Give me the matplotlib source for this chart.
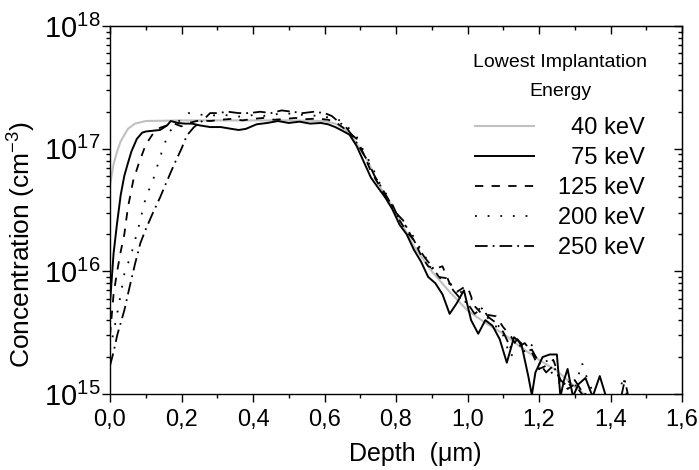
import numpy as np
import matplotlib
matplotlib.use("Agg")
import matplotlib.pyplot as plt
from matplotlib.ticker import FuncFormatter, MultipleLocator, LogLocator, NullFormatter

plt.rcParams['font.family'] = ['Liberation Sans', 'DejaVu Sans']
plt.rcParams['mathtext.fontset'] = 'custom'
plt.rcParams['mathtext.rm'] = 'Liberation Sans'
plt.rcParams['mathtext.it'] = 'Liberation Sans:italic'
plt.rcParams['mathtext.default'] = 'regular'

nan = float('nan')

# depth in um, concentration in cm^-3
depth_40 = [0.0, 0.01, 0.02, 0.03, 0.05, 0.07, 0.1, 0.2, 0.3, 0.4, 0.5, 0.6, 0.63, 0.66,
            0.69, 0.72, 0.75, 0.8, 0.85, 0.9, 0.95, 1.0, 1.05, 1.1, 1.15, 1.2, 1.25, 1.3, 1.33]
conc_40 = [5.0e16, 7.5e16, 9.5e16, 1.15e17, 1.45e17, 1.6e17, 1.68e17, 1.7e17, 1.7e17, 1.7e17,
           1.7e17, 1.68e17, 1.6e17, 1.42e17, 1.1e17, 8.0e16, 5.2e16, 3.0e16, 1.6e16, 1.0e16,
           6.8e15, 4.8e15, 3.8e15, 3.1e15, 2.4e15, 1.9e15, 1.55e15, 1.15e15, 0.98e15]

depth_75 = [0.0, 0.01, 0.02, 0.03, 0.04, 0.05, 0.06, 0.075, 0.09, 0.10, 0.12, 0.14, 0.16, 0.17,
            0.19, 0.21, 0.23, 0.25, 0.28, 0.31, 0.34, 0.36, 0.38, 0.41, 0.44, 0.47, 0.50, 0.53,
            0.56, 0.59, 0.61, 0.63, 0.65, 0.67, 0.69, 0.71, 0.73, 0.75, 0.77, 0.79, 0.81, 0.83,
            0.85, 0.87, 0.89, 0.91, 0.93, 0.95, 0.97, 0.99, 1.01, 1.03, 1.05, 1.07, 1.09, 1.11,
            1.13, 1.15, 1.17, 1.18, 1.19, 1.21, 1.23, 1.25, 1.26, 1.27, 1.28, 1.295, 1.31, 1.33,
            1.35, 1.37, 1.39]
conc_75 = [5.5e15, 1.4e16, 2.5e16, 4.2e16, 6.0e16, 7.6e16, 9.5e16, 1.2e17, 1.35e17, 1.38e17,
           1.4e17, 1.42e17, 1.55e17, 1.68e17, 1.62e17, 1.6e17, 1.6e17, 1.55e17, 1.5e17, 1.5e17,
           1.45e17, 1.42e17, 1.45e17, 1.58e17, 1.62e17, 1.68e17, 1.62e17, 1.66e17, 1.6e17,
           1.62e17, 1.58e17, 1.5e17, 1.4e17, 1.3e17, 1.05e17, 7.8e16, 5.8e16, 4.8e16, 4.0e16,
           3.2e16, 2.4e16, 2.0e16, 1.5e16, 1.2e16, 9.0e15, 8.0e15, 6.5e15, 4.5e15, 5.5e15,
           7.0e15, 4.0e15, 3.1e15, 4.0e15, 3.6e15, 2.8e15, 1.8e15, 2.9e15, 2.6e15, 1.4e15,
           0.98e15, 1.5e15, 2.0e15, 2.1e15, 2.1e15, 0.95e15, 1.3e15, 1.6e15, 0.95e15, 1.2e15,
           1.35e15, 0.95e15, 1.4e15, 0.9e15]

depth_125 = [0.0, 0.01, 0.02, 0.03, 0.04, 0.05, 0.065, 0.08, 0.10, 0.12, 0.14, 0.16, 0.18, 0.20,
             0.22, 0.25, 0.28, 0.31, 0.34, 0.37, 0.40, 0.43, 0.46, 0.49, 0.52, 0.55, 0.58, 0.61,
             0.63, 0.65, 0.67, 0.69, 0.71, 0.73, 0.75, 0.77, 0.79, 0.81, 0.83, 0.85, 0.87, 0.89,
             0.91, 0.93, 0.95, 0.97, 0.99, 1.00, 1.02, 1.04, 1.06, 1.08, 1.10, 1.12, 1.14, 1.16,
             1.18, 1.20, 1.22, 1.24, 1.26, 1.28, 1.30, 1.32, 1.33]
conc_125 = [3.0e15, 6.5e15, 1.0e16, 1.45e16, 2.0e16, 3.3e16, 5.5e16, 7.5e16, 1.08e17, 1.32e17,
            1.48e17, 1.55e17, 1.6e17, 1.52e17, 1.62e17, 1.7e17, 1.68e17, 1.72e17, 1.75e17,
            1.7e17, 1.75e17, 1.78e17, 1.72e17, 1.75e17, 1.78e17, 1.74e17, 1.76e17, 1.72e17,
            1.65e17, 1.5e17, 1.35e17, 1.2e17, 9.0e16, 6.5e16, 5.2e16, 4.0e16, 3.5e16, 2.6e16,
            2.1e16, 1.8e16, 1.35e16, 1.1e16, 1.05e16, 1.1e16, 8.0e15, 6.8e15, 7.4e15, 7.5e15,
            5.2e15, 4.5e15, 4.4e15, 4.3e15, 3.5e15, 3.0e15, 2.4e15, 2.6e15, 2.2e15, 1.6e15,
            1.7e15, 1.9e15, 1.3e15, 1.1e15, 1.2e15, 1.0e15, 0.95e15]

depth_200 = [0.0, 0.01, 0.02, 0.03, 0.04, 0.06, 0.08, 0.10, 0.12, 0.14, 0.15, 0.165, 0.18, 0.20,
             0.22, 0.25, 0.28, 0.31, 0.34, 0.37, 0.40, 0.43, 0.46, 0.49, 0.52, 0.55, 0.58, 0.61,
             0.63, 0.65, 0.67, 0.69, 0.71, 0.73, 0.75, 0.77, 0.79, 0.81, 0.83, 0.85, 0.87, 0.89,
             0.91, 0.93, 0.95, 0.97, 0.99, 1.01, 1.03, 1.05, 1.07, 1.09, 1.10, 1.12, 1.14, 1.16,
             1.18, 1.20, 1.22, 1.24, 1.26, 1.28, 1.30, 1.32, 1.34, 1.36, 1.38, 1.425, 1.435,
             1.445, 1.45]
conc_200 = [2.3e15, 3.2e15, 4.5e15, 6.5e15, 9.5e15, 1.4e16, 2.3e16, 4.0e16, 5.5e16, 8.5e16,
            1.05e17, 1.35e17, 1.55e17, 1.75e17, 1.95e17, 1.9e17, 1.85e17, 1.9e17, 1.85e17,
            1.82e17, 1.88e17, 1.85e17, 1.9e17, 1.95e17, 1.9e17, 1.88e17, 1.85e17, 1.8e17,
            1.78e17, 1.65e17, 1.45e17, 1.25e17, 9.5e16, 7.5e16, 5.5e16, 4.4e16, 3.4e16, 2.6e16,
            2.3e16, 1.9e16, 1.5e16, 1.2e16, 9.5e15, 8.5e15, 8.0e15, 7.2e15, 6.5e15, 6.0e15,
            5.0e15, 4.5e15, 3.6e15, 3.5e15, 3.0e15, 2.0e15, 2.4e15, 2.6e15, 2.5e15, 1.6e15,
            1.9e15, 1.4e15, 1.2e15, 1.3e15, 1.1e15, 1.8e15, 1.2e15, 0.95e15, nan, 0.95e15,
            1.4e15, 1.0e15, 0.95e15]

depth_250 = [0.0, 0.01, 0.02, 0.03, 0.04, 0.055, 0.07, 0.085, 0.10, 0.12, 0.14, 0.16, 0.18,
             0.20, 0.215, 0.235, 0.26, 0.28, 0.30, 0.33, 0.36, 0.39, 0.42, 0.45, 0.48, 0.51,
             0.54, 0.57, 0.60, 0.62, 0.64, 0.66, 0.68, 0.70, 0.72, 0.74, 0.76, 0.78, 0.80, 0.82,
             0.84, 0.86, 0.88, 0.90, 0.92, 0.94, 0.96, 0.98, 1.00, 1.02, 1.04, 1.06, 1.08, 1.10,
             1.12, 1.14, 1.16, 1.18, 1.20, 1.22, 1.24, 1.26, 1.28, 1.30, 1.32, 1.34, 1.38, 1.43,
             1.44, 1.45]
conc_250 = [1.7e15, 2.2e15, 3.0e15, 3.8e15, 4.8e15, 7.5e15, 1.15e16, 1.7e16, 2.2e16, 3.0e16,
            4.0e16, 5.5e16, 7.5e16, 1.0e17, 1.28e17, 1.5e17, 1.7e17, 1.95e17, 1.95e17, 2.0e17,
            1.95e17, 1.95e17, 2.0e17, 1.95e17, 2.05e17, 2.0e17, 1.95e17, 2.0e17, 1.95e17,
            1.85e17, 1.65e17, 1.5e17, 1.25e17, 1.0e17, 8.0e16, 6.0e16, 4.8e16, 3.8e16, 3.0e16,
            2.6e16, 2.0e16, 1.6e16, 1.3e16, 1.1e16, 9.0e15, 8.8e15, 7.0e15, 6.0e15, 5.5e15,
            4.5e15, 5.0e15, 4.2e15, 3.8e15, 3.2e15, 2.4e15, 2.8e15, 2.2e15, 2.3e15, 1.8e15,
            1.5e15, 1.7e15, 1.3e15, 1.15e15, 1.3e15, 1.05e15, 0.95e15, nan, 0.95e15, 1.3e15,
            0.95e15]

labels = ["\u200740 keV", "\u200775 keV", "125 keV", "200 keV", "250 keV"]

fig = plt.figure(figsize=(6.99, 4.70), dpi=100)
ax = fig.add_axes([110/699, 1 - 394/470, 572/699, 368/470])

ax.plot(depth_40, conc_40, color='#c0c0c0', lw=1.5, label=labels[0])
ax.plot(depth_75, conc_75, color='black', lw=1.4, label=labels[1])
ax.plot(depth_125, conc_125, color='black', lw=1.3, ls=(0, (4.6, 4.6)), label=labels[2])
ax.plot(depth_200, conc_200, color='black', lw=1.3, ls=(0, (1, 6)), label=labels[3])
ax.plot(depth_250, conc_250, color='black', lw=1.3, ls=(0, (7, 2.8, 1, 2.8)), label=labels[4])

ax.set_yscale('log')
ax.set_xlim(0, 1.6)
ax.set_ylim(1e15, 1e18)

ax.xaxis.set_major_locator(MultipleLocator(0.2))
ax.xaxis.set_minor_locator(MultipleLocator(0.1))
ax.xaxis.set_major_formatter(FuncFormatter(lambda v, p: f"{v:.1f}".replace('.', ',')))
ax.yaxis.set_minor_locator(LogLocator(base=10, subs=np.arange(2, 10)))
ax.yaxis.set_minor_formatter(NullFormatter())

ax.tick_params(axis='x', which='major', direction='out', length=6, width=1, labelsize=17, pad=5)
ax.tick_params(axis='x', which='minor', direction='out', length=3, width=1)
ax.tick_params(axis='y', which='major', direction='out', length=6, width=1, labelsize=21, pad=1)
ax.tick_params(axis='y', which='minor', direction='out', length=3, width=1)
for s in ax.spines.values():
    s.set_linewidth(1.0)

# mirrored ticks pointing inward on top and right
top = ax.secondary_xaxis('top')
top.xaxis.set_major_locator(MultipleLocator(0.2))
top.xaxis.set_minor_locator(MultipleLocator(0.1))
top.tick_params(which='major', direction='in', length=6, width=1, labeltop=False)
top.tick_params(which='minor', direction='in', length=3, width=1)
right = ax.secondary_yaxis('right')
right.yaxis.set_minor_locator(LogLocator(base=10, subs=np.arange(2, 10)))
right.yaxis.set_minor_formatter(NullFormatter())
right.tick_params(which='major', direction='in', length=6, width=1, labelright=False)
right.tick_params(which='minor', direction='in', length=3, width=1)

ax.set_xlabel("Depth  (\u03bcm)", fontsize=18)
ax.xaxis.set_label_coords(0.533, -0.13)
ax.set_ylabel("Concentration (cm$^{-3}$)", fontsize=19)
ax.yaxis.set_label_coords(-0.125, 0.405)

leg = ax.legend(title="Lowest Implantation\nEnergy", frameon=False, fontsize=17,
                title_fontsize=14, handlelength=2.5, handletextpad=1.0, labelspacing=0.34,
                loc='upper left', bbox_to_anchor=(0.635, 0.925), borderaxespad=0, borderpad=0)
leg.get_title().set_multialignment('center')
leg.get_title().set_linespacing(1.95)
leg._legend_box.sep = 12.5

fig.savefig("out.png", dpi=100)
